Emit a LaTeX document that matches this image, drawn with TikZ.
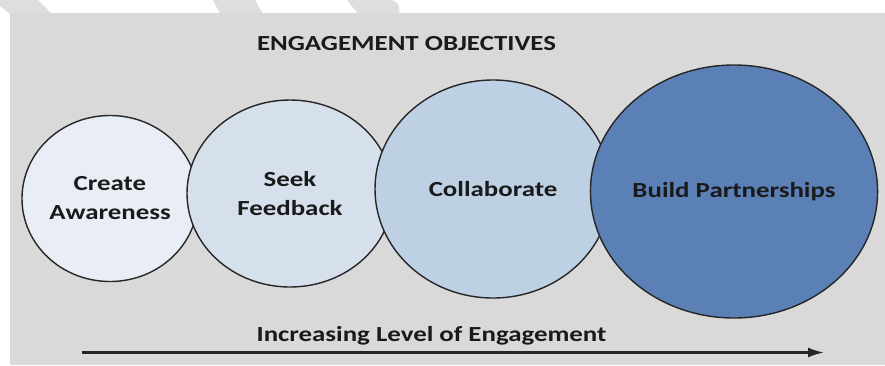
\documentclass[tikz,border=0pt]{standalone}
\usepackage{fontspec}
\usepackage{graphicx}
\setmainfont{Carlito}
\usetikzlibrary{shapes.geometric,arrows.meta}
\definecolor{panel}{HTML}{D9D9D9}
\definecolor{deco}{HTML}{DEDEDE}
\definecolor{edge}{HTML}{262626}
\definecolor{txt}{HTML}{1A1A1A}
\definecolor{cA}{HTML}{E9EEF6}
\definecolor{cB}{HTML}{D6E0EC}
\definecolor{cC}{HTML}{BDD0E4}
\definecolor{cD}{HTML}{5A80B5}
\newcommand{\sx}[1]{\scalebox{1.25}[1]{#1}}
\begin{document}
\begin{tikzpicture}[x=1pt,y=-1pt,
  lbl/.style={font=\bfseries\fontsize{21.5}{29}\selectfont, text=txt, align=center},
  bubble/.style={ellipse, draw=edge, line width=1.4pt, inner sep=0pt, lbl}]
\useasboundingbox (0,0) rectangle (885,365);
% faint background shapes above the panel
\fill[deco] (0,0) -- (38,0) -- (52,14) -- (10,14) -- (0,6) -- cycle;
\fill[deco] (213,0) -- (255,0) -- (263,14) -- (220,14) -- cycle;
\fill[deco] (347,0) -- (390,0) .. controls (397,0) and (401,6) .. (399,14) -- (358,14) -- cycle;
% panel
\fill[panel] (10,13) rectangle (885,365);
% title
\node[lbl, anchor=base] (title) at (406.5,50) {\sx{ENGAGEMENT OBJECTIVES}};
% bubbles
\node[bubble, fill=cA, minimum width=176pt, minimum height=166pt] (aware) at (110,198.5) {\sx{Create}\\\sx{Awareness}};
\node[bubble, fill=cB, minimum width=206pt, minimum height=187pt] (feed) at (290,193.5) {\sx{Seek}\\\sx{Feedback}};
\node[bubble, fill=cC, minimum width=236pt, minimum height=218pt] (collab) at (493,189) {\sx{Collaborate}};
\node[bubble, fill=cD, minimum width=282pt, minimum height=253pt] (build) at (734,191.5) {\sx{Build Partnerships}};
% axis label and arrow
\node[lbl, anchor=base] (axis) at (431.5,341) {\sx{Increasing Level of Engagement}};
\coordinate (arrS) at (82,352.5);
\coordinate (arrE) at (824,352.5);
\draw[edge, line width=2.2pt, -{Latex[length=16pt,width=10pt]}] (arrS) -- (arrE);
\end{tikzpicture}
\end{document}
